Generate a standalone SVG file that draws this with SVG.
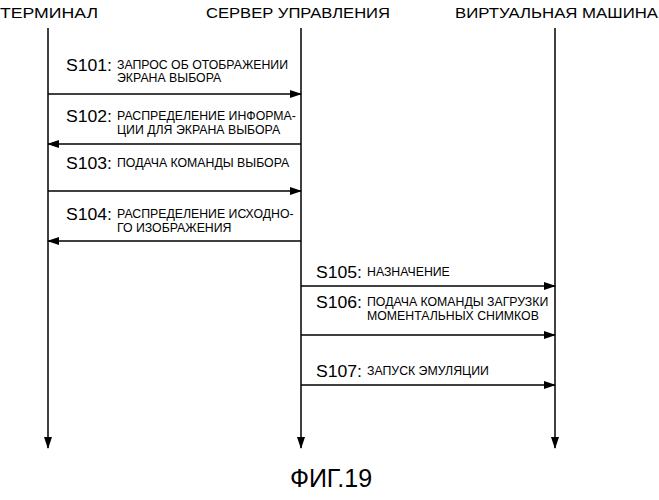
<svg xmlns="http://www.w3.org/2000/svg" width="659" height="500" viewBox="0 0 659 500">
<style>
.h{font-family:"Liberation Sans",Arial,sans-serif;font-size:15.5px;fill:#000}
.s{font-family:"Liberation Sans",Arial,sans-serif;font-size:16px;fill:#000}
.t{font-family:"Liberation Sans",Arial,sans-serif;font-size:12.3px;fill:#000}
line{stroke:#000;stroke-width:1.5}
</style>
<defs><marker id="a" markerWidth="12" markerHeight="8" refX="11" refY="4" orient="auto" markerUnits="userSpaceOnUse"><path d="M0,0 L12,4 L0,8 Z" fill="#000"/></marker></defs>
<rect width="659" height="500" fill="#fff"/>
<g id="terminal"><text class="h" x="0" y="18" textLength="98" lengthAdjust="spacingAndGlyphs">ТЕРМИНАЛ</text></g>
<g id="server"><text class="h" x="206" y="18" textLength="184" lengthAdjust="spacingAndGlyphs">СЕРВЕР УПРАВЛЕНИЯ</text></g>
<g id="vm"><text class="h" x="455" y="18" textLength="203" lengthAdjust="spacingAndGlyphs">ВИРТУАЛЬНАЯ МАШИНА</text></g>
<g id="connectors">
<line x1="48" y1="28" x2="48" y2="448" marker-end="url(#a)"/>
<line x1="301" y1="28" x2="301" y2="448" marker-end="url(#a)"/>
<line x1="555" y1="28" x2="555" y2="448" marker-end="url(#a)"/>
<line x1="48" y1="94" x2="301" y2="94" marker-end="url(#a)"/>
<line x1="301" y1="144" x2="48" y2="144" marker-end="url(#a)"/>
<line x1="48" y1="191" x2="301" y2="191" marker-end="url(#a)"/>
<line x1="301" y1="241" x2="48" y2="241" marker-end="url(#a)"/>
<line x1="301" y1="286" x2="555" y2="286" marker-end="url(#a)"/>
<line x1="301" y1="335" x2="555" y2="335" marker-end="url(#a)"/>
<line x1="301" y1="385" x2="555" y2="385" marker-end="url(#a)"/>
</g>
<g id="labels">
<text class="s" x="66" y="71" textLength="46" lengthAdjust="spacingAndGlyphs">S101:</text><text class="t" x="117" y="69">ЗАПРОС ОБ ОТОБРАЖЕНИИ</text><text class="t" x="117" y="82">ЭКРАНА ВЫБОРА</text>
<text class="s" x="66" y="122" textLength="46" lengthAdjust="spacingAndGlyphs">S102:</text><text class="t" x="117" y="120">РАСПРЕДЕЛЕНИЕ ИНФОРМА-</text><text class="t" x="117" y="134">ЦИИ ДЛЯ ЭКРАНА ВЫБОРА</text>
<text class="s" x="66" y="169" textLength="46" lengthAdjust="spacingAndGlyphs">S103:</text><text class="t" x="117" y="167">ПОДАЧА КОМАНДЫ ВЫБОРА</text>
<text class="s" x="66" y="220" textLength="46" lengthAdjust="spacingAndGlyphs">S104:</text><text class="t" x="117" y="218">РАСПРЕДЕЛЕНИЕ ИСХОДНО-</text><text class="t" x="117" y="232">ГО ИЗОБРАЖЕНИЯ</text>
<text class="s" x="316" y="278" textLength="46" lengthAdjust="spacingAndGlyphs">S105:</text><text class="t" x="367" y="276">НАЗНАЧЕНИЕ</text>
<text class="s" x="316" y="308" textLength="46" lengthAdjust="spacingAndGlyphs">S106:</text><text class="t" x="367" y="306">ПОДАЧА КОМАНДЫ ЗАГРУЗКИ</text><text class="t" x="367" y="320">МОМЕНТАЛЬНЫХ СНИМКОВ</text>
<text class="s" x="316" y="377" textLength="46" lengthAdjust="spacingAndGlyphs">S107:</text><text class="t" x="367" y="375">ЗАПУСК ЭМУЛЯЦИИ</text>
</g>
<text x="331" y="487" text-anchor="middle" style="font-family:'Liberation Sans',Arial,sans-serif;font-size:25px">ФИГ.19</text>
</svg>
